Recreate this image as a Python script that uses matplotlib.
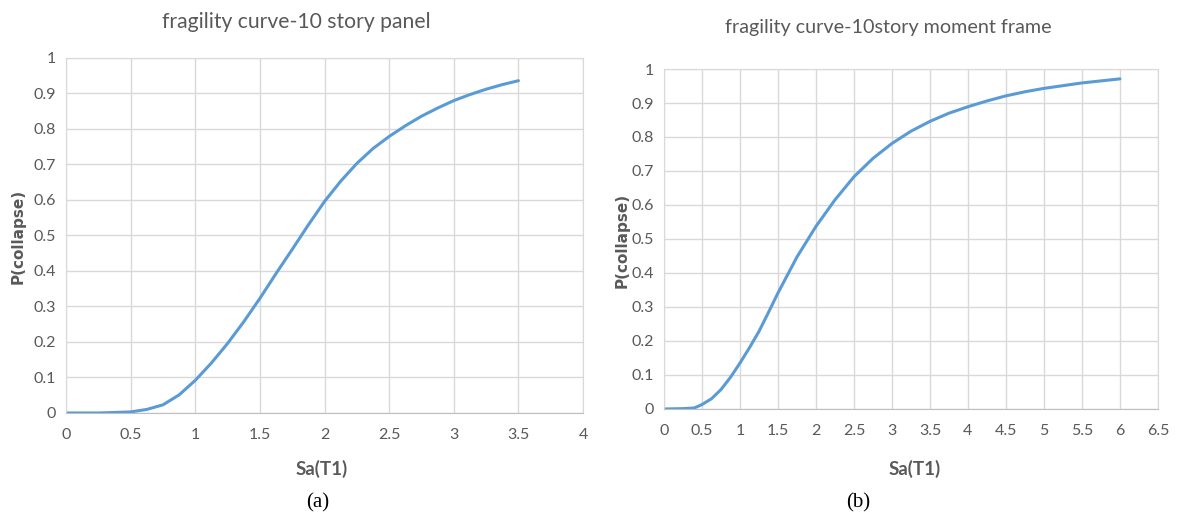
import matplotlib
matplotlib.use("Agg")
import matplotlib.pyplot as plt

# panel (a): 10 story panel
sa_a = [0, 0.25, 0.5, 0.625, 0.75, 0.875, 1.0, 1.125, 1.25, 1.375, 1.5, 1.625, 1.75,
        1.875, 2.0, 2.125, 2.25, 2.375, 2.5, 2.625, 2.75, 2.875, 3.0, 3.125, 3.25,
        3.375, 3.5]
p_a = [0, 0, 0.003, 0.01, 0.023, 0.051, 0.092, 0.141, 0.196, 0.257, 0.323, 0.393, 0.461,
       0.53, 0.596, 0.653, 0.703, 0.745, 0.779, 0.809, 0.836, 0.859, 0.88, 0.897, 0.912,
       0.925, 0.936]

# panel (b): 10 story moment frame
sa_b = [0, 0.25, 0.4, 0.5, 0.625, 0.75, 0.875, 1.0, 1.125, 1.25, 1.375, 1.5, 1.75, 2.0,
        2.25, 2.5, 2.75, 3.0, 3.25, 3.5, 3.75, 4.0, 4.25, 4.5, 4.75, 5.0, 5.5, 6.0]
p_b = [0, 0.001, 0.003, 0.013, 0.03, 0.057, 0.093, 0.135, 0.18, 0.228, 0.284, 0.341,
       0.447, 0.537, 0.615, 0.683, 0.737, 0.781, 0.817, 0.846, 0.87, 0.889, 0.906, 0.921,
       0.933, 0.943, 0.959, 0.971]

xticks_a = [0, 0.5, 1, 1.5, 2, 2.5, 3, 3.5, 4]
xticks_b = [0, 0.5, 1, 1.5, 2, 2.5, 3, 3.5, 4, 4.5, 5, 5.5, 6, 6.5]
yticks = [0, 0.1, 0.2, 0.3, 0.4, 0.5, 0.6, 0.7, 0.8, 0.9, 1]

plt.rcParams['font.family'] = ['Lato', 'DejaVu Sans']
grey = '#595959'
blue = '#5B9BD5'

fig = plt.figure(figsize=(11.77, 5.2), dpi=100)
ax1 = fig.add_axes([0.0561, 0.2058, 0.4393, 0.6827])
ax2 = fig.add_axes([0.5641, 0.2135, 0.4197, 0.6538])


def style(ax, xs, xmax):
    ax.set_xlim(0, xmax)
    ax.set_ylim(0, 1)
    ax.set_xticks(xs)
    ax.set_xticklabels(['%g' % v for v in xs])
    ax.set_yticks(yticks)
    ax.set_yticklabels(['%g' % v for v in yticks])
    ax.grid(True, color='#d9d9d9', lw=1)
    ax.set_axisbelow(True)
    for s in ['top', 'right', 'left']:
        ax.spines[s].set_color('#d9d9d9')
    ax.spines['bottom'].set_color('#bfbfbf')
    ax.tick_params(length=0, colors=grey, labelsize=11.5)
    ax.tick_params(axis='x', pad=11)
    ax.tick_params(axis='y', pad=7)


ax1.plot(sa_a, p_a, color=blue, lw=2.2, solid_capstyle='round', solid_joinstyle='round')
style(ax1, xticks_a, 4)
ax2.plot(sa_b, p_b, color=blue, lw=2.2, solid_capstyle='round', solid_joinstyle='round')
style(ax2, xticks_b, 6.5)

fig.text(296 / 1177, 1 - 22 / 520, 'fragility curve-10 story panel', ha='center', va='center',
         fontsize=15.2, color=grey)
fig.text(888 / 1177, 1 - 27 / 520, 'fragility curve-10story moment frame', ha='center',
         va='center', fontsize=14.2, color=grey)

fig.text(322 / 1177, 1 - 469 / 520, 'Sa(T1)', ha='center', va='center', fontsize=13.5,
         fontweight='bold', color=grey)
fig.text(915 / 1177, 1 - 469 / 520, 'Sa(T1)', ha='center', va='center', fontsize=13.5,
         fontweight='bold', color=grey)

fig.text(18 / 1177, 1 - 236 / 520, 'P(collapse)', ha='center', va='center', rotation=90,
         fontsize=11, fontweight='bold', color=grey, family='DejaVu Sans')
fig.text(622 / 1177, 1 - 240 / 520, 'P(collapse)', ha='center', va='center', rotation=90,
         fontsize=11, fontweight='bold', color=grey, family='DejaVu Sans')

fig.text(318 / 1177, 1 - 503 / 520, '(a)', ha='center', va='center', fontsize=15,
         family='Liberation Serif', color='black')
fig.text(858 / 1177, 1 - 503 / 520, '(b)', ha='center', va='center', fontsize=15,
         family='Liberation Serif', color='black')

fig.savefig('out.png', dpi=100)
